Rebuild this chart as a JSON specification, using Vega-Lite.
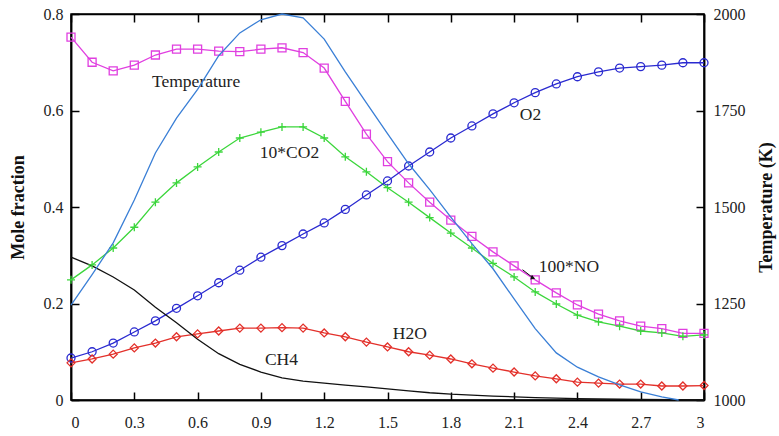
{
  "$schema": "https://vega.github.io/schema/vega-lite/v6.json",
  "width": 633,
  "height": 386,
  "autosize": "none",
  "padding": {"left": 71, "top": 14, "right": 75, "bottom": 36},
  "background": "white",
  "config": {
    "view": {"stroke": "black", "strokeWidth": 1.5},
    "font": "Liberation Serif",
    "axis": {
      "grid": false,
      "domainColor": "black",
      "domainWidth": 1.5,
      "tickColor": "#000000",
      "tickWidth": 1.5,
      "tickSize": 8,
      "labelFont": "Liberation Serif",
      "labelFontSize": 16,
      "labelColor": "#222",
      "titleFont": "Liberation Serif",
      "titleFontSize": 18,
      "titleFontWeight": "bold",
      "titleColor": "#111"
    }
  },
  "datasets": {
    "species": [
      {"series": "NO", "x": 0.0, "y": 0.752}, {"series": "NO", "x": 0.1, "y": 0.700}, {"series": "NO", "x": 0.2, "y": 0.682},
      {"series": "NO", "x": 0.3, "y": 0.694}, {"series": "NO", "x": 0.4, "y": 0.715}, {"series": "NO", "x": 0.5, "y": 0.727},
      {"series": "NO", "x": 0.6, "y": 0.727}, {"series": "NO", "x": 0.7, "y": 0.723}, {"series": "NO", "x": 0.8, "y": 0.722},
      {"series": "NO", "x": 0.9, "y": 0.727}, {"series": "NO", "x": 1.0, "y": 0.730}, {"series": "NO", "x": 1.1, "y": 0.720},
      {"series": "NO", "x": 1.2, "y": 0.688}, {"series": "NO", "x": 1.3, "y": 0.619}, {"series": "NO", "x": 1.4, "y": 0.551},
      {"series": "NO", "x": 1.5, "y": 0.494}, {"series": "NO", "x": 1.6, "y": 0.450}, {"series": "NO", "x": 1.7, "y": 0.410},
      {"series": "NO", "x": 1.8, "y": 0.373}, {"series": "NO", "x": 1.9, "y": 0.339}, {"series": "NO", "x": 2.0, "y": 0.307},
      {"series": "NO", "x": 2.1, "y": 0.278}, {"series": "NO", "x": 2.2, "y": 0.249}, {"series": "NO", "x": 2.3, "y": 0.222},
      {"series": "NO", "x": 2.4, "y": 0.197}, {"series": "NO", "x": 2.5, "y": 0.178}, {"series": "NO", "x": 2.6, "y": 0.164},
      {"series": "NO", "x": 2.7, "y": 0.153}, {"series": "NO", "x": 2.8, "y": 0.148}, {"series": "NO", "x": 2.9, "y": 0.138},
      {"series": "NO", "x": 3.0, "y": 0.138},

      {"series": "CO2", "x": 0.0, "y": 0.249}, {"series": "CO2", "x": 0.1, "y": 0.280}, {"series": "CO2", "x": 0.2, "y": 0.315},
      {"series": "CO2", "x": 0.3, "y": 0.358}, {"series": "CO2", "x": 0.4, "y": 0.410}, {"series": "CO2", "x": 0.5, "y": 0.450},
      {"series": "CO2", "x": 0.6, "y": 0.483}, {"series": "CO2", "x": 0.7, "y": 0.514}, {"series": "CO2", "x": 0.8, "y": 0.543},
      {"series": "CO2", "x": 0.9, "y": 0.555}, {"series": "CO2", "x": 1.0, "y": 0.566}, {"series": "CO2", "x": 1.1, "y": 0.566},
      {"series": "CO2", "x": 1.2, "y": 0.543}, {"series": "CO2", "x": 1.3, "y": 0.504}, {"series": "CO2", "x": 1.4, "y": 0.473},
      {"series": "CO2", "x": 1.5, "y": 0.440}, {"series": "CO2", "x": 1.6, "y": 0.410}, {"series": "CO2", "x": 1.7, "y": 0.378},
      {"series": "CO2", "x": 1.8, "y": 0.346}, {"series": "CO2", "x": 1.9, "y": 0.315}, {"series": "CO2", "x": 2.0, "y": 0.283},
      {"series": "CO2", "x": 2.1, "y": 0.255}, {"series": "CO2", "x": 2.2, "y": 0.224}, {"series": "CO2", "x": 2.3, "y": 0.199},
      {"series": "CO2", "x": 2.4, "y": 0.176}, {"series": "CO2", "x": 2.5, "y": 0.162}, {"series": "CO2", "x": 2.6, "y": 0.153},
      {"series": "CO2", "x": 2.7, "y": 0.143}, {"series": "CO2", "x": 2.8, "y": 0.139}, {"series": "CO2", "x": 2.9, "y": 0.132},
      {"series": "CO2", "x": 3.0, "y": 0.135},

      {"series": "O2", "x": 0.0, "y": 0.087}, {"series": "O2", "x": 0.1, "y": 0.100}, {"series": "O2", "x": 0.2, "y": 0.118},
      {"series": "O2", "x": 0.3, "y": 0.141}, {"series": "O2", "x": 0.4, "y": 0.164}, {"series": "O2", "x": 0.5, "y": 0.190},
      {"series": "O2", "x": 0.6, "y": 0.216}, {"series": "O2", "x": 0.7, "y": 0.243}, {"series": "O2", "x": 0.8, "y": 0.269},
      {"series": "O2", "x": 0.9, "y": 0.296}, {"series": "O2", "x": 1.0, "y": 0.320}, {"series": "O2", "x": 1.1, "y": 0.344},
      {"series": "O2", "x": 1.2, "y": 0.367}, {"series": "O2", "x": 1.3, "y": 0.395}, {"series": "O2", "x": 1.4, "y": 0.425},
      {"series": "O2", "x": 1.5, "y": 0.454}, {"series": "O2", "x": 1.6, "y": 0.485}, {"series": "O2", "x": 1.7, "y": 0.514},
      {"series": "O2", "x": 1.8, "y": 0.543}, {"series": "O2", "x": 1.9, "y": 0.568}, {"series": "O2", "x": 2.0, "y": 0.593},
      {"series": "O2", "x": 2.1, "y": 0.616}, {"series": "O2", "x": 2.2, "y": 0.637}, {"series": "O2", "x": 2.3, "y": 0.655},
      {"series": "O2", "x": 2.4, "y": 0.670}, {"series": "O2", "x": 2.5, "y": 0.680}, {"series": "O2", "x": 2.6, "y": 0.688},
      {"series": "O2", "x": 2.7, "y": 0.691}, {"series": "O2", "x": 2.8, "y": 0.694}, {"series": "O2", "x": 2.9, "y": 0.699},
      {"series": "O2", "x": 3.0, "y": 0.699},

      {"series": "H2O", "x": 0.0, "y": 0.077}, {"series": "H2O", "x": 0.1, "y": 0.085}, {"series": "H2O", "x": 0.2, "y": 0.095},
      {"series": "H2O", "x": 0.3, "y": 0.108}, {"series": "H2O", "x": 0.4, "y": 0.118}, {"series": "H2O", "x": 0.5, "y": 0.131},
      {"series": "H2O", "x": 0.6, "y": 0.137}, {"series": "H2O", "x": 0.7, "y": 0.143}, {"series": "H2O", "x": 0.8, "y": 0.149},
      {"series": "H2O", "x": 0.9, "y": 0.149}, {"series": "H2O", "x": 1.0, "y": 0.150}, {"series": "H2O", "x": 1.1, "y": 0.149},
      {"series": "H2O", "x": 1.2, "y": 0.139}, {"series": "H2O", "x": 1.3, "y": 0.131}, {"series": "H2O", "x": 1.4, "y": 0.120},
      {"series": "H2O", "x": 1.5, "y": 0.110}, {"series": "H2O", "x": 1.6, "y": 0.100}, {"series": "H2O", "x": 1.7, "y": 0.093},
      {"series": "H2O", "x": 1.8, "y": 0.085}, {"series": "H2O", "x": 1.9, "y": 0.075}, {"series": "H2O", "x": 2.0, "y": 0.066},
      {"series": "H2O", "x": 2.1, "y": 0.058}, {"series": "H2O", "x": 2.2, "y": 0.050}, {"series": "H2O", "x": 2.3, "y": 0.044},
      {"series": "H2O", "x": 2.4, "y": 0.037}, {"series": "H2O", "x": 2.5, "y": 0.035}, {"series": "H2O", "x": 2.6, "y": 0.033},
      {"series": "H2O", "x": 2.7, "y": 0.033}, {"series": "H2O", "x": 2.8, "y": 0.029}, {"series": "H2O", "x": 2.9, "y": 0.029},
      {"series": "H2O", "x": 3.0, "y": 0.030},

      {"series": "CH4", "x": 0.0, "y": 0.296}, {"series": "CH4", "x": 0.1, "y": 0.278}, {"series": "CH4", "x": 0.2, "y": 0.255},
      {"series": "CH4", "x": 0.3, "y": 0.228}, {"series": "CH4", "x": 0.4, "y": 0.192}, {"series": "CH4", "x": 0.5, "y": 0.160},
      {"series": "CH4", "x": 0.6, "y": 0.126}, {"series": "CH4", "x": 0.7, "y": 0.096}, {"series": "CH4", "x": 0.8, "y": 0.074},
      {"series": "CH4", "x": 0.9, "y": 0.058}, {"series": "CH4", "x": 1.0, "y": 0.046}, {"series": "CH4", "x": 1.1, "y": 0.039},
      {"series": "CH4", "x": 1.2, "y": 0.035}, {"series": "CH4", "x": 1.3, "y": 0.031}, {"series": "CH4", "x": 1.4, "y": 0.027},
      {"series": "CH4", "x": 1.5, "y": 0.023}, {"series": "CH4", "x": 1.6, "y": 0.019}, {"series": "CH4", "x": 1.7, "y": 0.015},
      {"series": "CH4", "x": 1.8, "y": 0.012}, {"series": "CH4", "x": 2.0, "y": 0.008}, {"series": "CH4", "x": 2.2, "y": 0.005},
      {"series": "CH4", "x": 2.4, "y": 0.003}, {"series": "CH4", "x": 2.7, "y": 0.001}, {"series": "CH4", "x": 3.0, "y": 0.0}
    ],
    "temperature": [
      {"x": 0.0, "T": 1246}, {"x": 0.1, "T": 1325}, {"x": 0.2, "T": 1407}, {"x": 0.3, "T": 1518},
      {"x": 0.4, "T": 1640}, {"x": 0.5, "T": 1730}, {"x": 0.6, "T": 1805}, {"x": 0.7, "T": 1892},
      {"x": 0.8, "T": 1951}, {"x": 0.9, "T": 1985}, {"x": 1.0, "T": 2000}, {"x": 1.1, "T": 1990},
      {"x": 1.2, "T": 1935}, {"x": 1.3, "T": 1850}, {"x": 1.4, "T": 1770}, {"x": 1.5, "T": 1690},
      {"x": 1.6, "T": 1612}, {"x": 1.7, "T": 1545}, {"x": 1.8, "T": 1474}, {"x": 1.9, "T": 1405},
      {"x": 2.0, "T": 1340}, {"x": 2.1, "T": 1262}, {"x": 2.2, "T": 1185}, {"x": 2.3, "T": 1122},
      {"x": 2.4, "T": 1085}, {"x": 2.5, "T": 1060}, {"x": 2.6, "T": 1039}, {"x": 2.7, "T": 1021},
      {"x": 2.8, "T": 1008}, {"x": 2.88, "T": 1000}
    ],
    "labels": [
      {"label": "Temperature", "x": 0.384, "y": 0.659},
      {"label": "10*CO2", "x": 0.895, "y": 0.512},
      {"label": "O2", "x": 2.127, "y": 0.591},
      {"label": "100*NO", "x": 2.217, "y": 0.276},
      {"label": "H2O", "x": 1.525, "y": 0.137},
      {"label": "CH4", "x": 0.919, "y": 0.083}
    ],
    "arrow": [
      {"x": 2.14, "y": 0.27, "x2": 2.19, "y2": 0.253}
    ]
  },
  "layer": [
    {
      "data": {"name": "species"},
      "mark": {"type": "line", "strokeWidth": 1.3},
      "encoding": {
        "x": {"field": "x", "type": "quantitative", "scale": {"domain": [0, 3], "nice": false},
              "axis": {"title": null, "values": [0, 0.3, 0.6, 0.9, 1.2, 1.5, 1.8, 2.1, 2.4, 2.7, 3], "format": "~g", "ticks": false, "labelPadding": 14}},
        "y": {"field": "y", "type": "quantitative", "scale": {"domain": [0, 0.8], "nice": false},
              "axis": {"title": "Mole fraction", "values": [0, 0.2, 0.4, 0.6, 0.8], "format": "~g", "ticks": false, "labelPadding": 8, "titlePadding": 16}},
        "color": {"field": "series", "type": "nominal", "legend": null,
                  "scale": {"domain": ["NO", "CO2", "O2", "H2O", "CH4"], "range": ["#e03fe0", "#3bd63b", "#2a2ad0", "#e3302a", "#111111"]}},
        "detail": {"field": "series"}
      }
    },
    {
      "data": {"name": "species"},
      "transform": [{"filter": "datum.series !== 'CH4'"}],
      "mark": {"type": "point", "filled": false, "strokeWidth": 1.3, "opacity": 1},
      "encoding": {
        "x": {"field": "x", "type": "quantitative",
              "axis": {"orient": "top", "offset": -386, "title": "", "labels": false, "ticks": true, "values": [0, 0.3, 0.6, 0.9, 1.2, 1.5, 1.8, 2.1, 2.4, 2.7, 3]}},
        "y": {"field": "y", "type": "quantitative", "scale": {"domain": [0, 0.8], "nice": false},
              "axis": {"orient": "right", "offset": -633, "title": "", "labels": false, "ticks": true, "values": [0, 0.2, 0.4, 0.6, 0.8]}},
        "color": {"field": "series", "type": "nominal", "legend": null},
        "shape": {"field": "series", "type": "nominal", "legend": null,
                  "scale": {"domain": ["NO", "CO2", "O2", "H2O"], "range": ["square", "M-1,0H1M0,-1V1", "circle", "diamond"]}},
        "size": {"value": 64}
      }
    },
    {
      "data": {"name": "labels"},
      "mark": {"type": "text", "align": "left", "baseline": "middle", "font": "Liberation Serif", "fontSize": 17.5, "color": "#222"},
      "encoding": {
        "x": {"field": "x", "type": "quantitative", "axis": null},
        "y": {"field": "y", "type": "quantitative", "axis": null, "scale": {"domain": [0, 0.8], "nice": false}},
        "text": {"field": "label"}
      }
    },
    {
      "data": {"name": "arrow"},
      "mark": {"type": "rule", "color": "#111", "strokeWidth": 1},
      "encoding": {
        "x": {"field": "x", "type": "quantitative", "axis": null},
        "y": {"field": "y", "type": "quantitative", "axis": null, "scale": {"domain": [0, 0.8], "nice": false}},
        "x2": {"field": "x2"},
        "y2": {"field": "y2"}
      }
    },
    {
      "data": {"name": "arrow"},
      "mark": {"type": "point", "shape": "triangle-right", "filled": true, "color": "#111", "size": 25, "angle": 20, "opacity": 1},
      "encoding": {
        "x": {"field": "x2", "type": "quantitative", "axis": null},
        "y": {"field": "y2", "type": "quantitative", "axis": null, "scale": {"domain": [0, 0.8], "nice": false}}
      }
    },
    {
      "data": {"name": "temperature"},
      "mark": {"type": "line", "color": "#3a7fd6", "strokeWidth": 1.3},
      "encoding": {
        "x": {"field": "x", "type": "quantitative",
              "axis": {"orient": "bottom", "offset": -386, "title": "", "labels": false, "ticks": true, "values": [0, 0.3, 0.6, 0.9, 1.2, 1.5, 1.8, 2.1, 2.4, 2.7, 3]}},
        "y": {"field": "T", "type": "quantitative", "scale": {"domain": [1000, 2000], "nice": false},
              "axis": {"orient": "right", "title": "Temperature (K)", "titleAngle": -90, "format": "d", "ticks": false, "values": [1000, 1250, 1500, 1750, 2000], "labelPadding": 9, "titlePadding": 30}}
      }
    },
    {
      "data": {"name": "temperature"},
      "mark": {"type": "line", "opacity": 0},
      "encoding": {
        "x": {"field": "x", "type": "quantitative", "axis": null},
        "y": {"field": "T", "type": "quantitative", "scale": {"domain": [1000, 2000], "nice": false},
              "axis": {"orient": "left", "offset": -633, "title": "", "labels": false, "ticks": true, "values": [1000, 1250, 1500, 1750, 2000]}}
      }
    }
  ],
  "resolve": {"scale": {"y": "independent"}, "axis": {"x": "independent", "y": "independent"}}
}
